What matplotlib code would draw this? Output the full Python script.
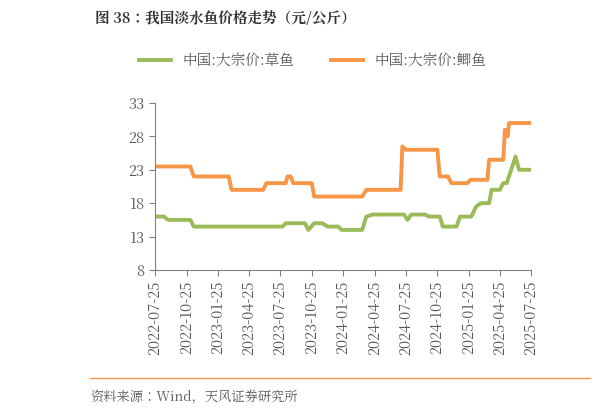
import pandas as pd
import matplotlib.pyplot as plt
import matplotlib.dates as mdates
from matplotlib import font_manager

cjk = [f.name for f in font_manager.fontManager.ttflist if "CJK" in f.name]
plt.rcParams["font.family"] = (["Noto Sans CJK SC"] if "Noto Sans CJK SC" in cjk else cjk[:1]) + ["DejaVu Sans"]

grass_dates = ["2022-07-25", "2022-08-20", "2022-09-01", "2022-11-05", "2022-11-15", "2023-08-01",
               "2023-08-10", "2023-10-05", "2023-10-15", "2023-11-01", "2023-11-25", "2023-12-10",
               "2024-01-10", "2024-01-20", "2024-03-20", "2024-04-01", "2024-04-20", "2024-07-20",
               "2024-07-30", "2024-08-10", "2024-09-20", "2024-09-30", "2024-11-01", "2024-11-10",
               "2024-12-20", "2024-12-30", "2025-02-01", "2025-02-15", "2025-03-01", "2025-03-25",
               "2025-04-01", "2025-04-25", "2025-05-05", "2025-05-15", "2025-05-25", "2025-06-10",
               "2025-06-20", "2025-07-25"]
grass_vals = [16, 16, 15.5, 15.5, 14.5, 14.5, 15, 15, 14, 15, 15, 14.5, 14.5, 14, 14, 16, 16.3, 16.3,
              15.5, 16.3, 16.3, 16, 16, 14.5, 14.5, 16, 16, 17.5, 18, 18, 20, 20, 21, 21, 22.5,
              25, 23, 23]

crucian_dates = ["2022-07-25", "2022-11-05", "2022-11-15", "2023-02-25", "2023-03-05", "2023-06-05",
                 "2023-06-15", "2023-08-10", "2023-08-15", "2023-08-25", "2023-09-01", "2023-10-25",
                 "2023-11-01", "2024-03-20", "2024-04-01", "2024-07-10", "2024-07-15", "2024-07-25",
                 "2024-10-25", "2024-11-01", "2024-11-25", "2024-12-05", "2025-01-20", "2025-01-30",
                 "2025-03-20", "2025-03-25", "2025-05-05", "2025-05-10", "2025-05-18", "2025-05-22",
                 "2025-05-30", "2025-07-25"]
crucian_vals = [23.5, 23.5, 22, 22, 20, 20, 21, 21, 22, 22, 21, 21, 19, 19, 20, 20, 26.5, 26, 26,
                22, 22, 21, 21, 21.5, 21.5, 24.5, 24.5, 29, 28, 30, 30, 30]

x_ticks = ["2022-07-25", "2022-10-25", "2023-01-25", "2023-04-25", "2023-07-25", "2023-10-25",
           "2024-01-25", "2024-04-25", "2024-07-25", "2024-10-25", "2025-01-25", "2025-04-25",
           "2025-07-25"]
y_ticks = [8, 13, 18, 23, 28, 33]

fig = plt.figure(figsize=(6.09, 4.15), dpi=100)
ax = fig.add_axes([155 / 609, 1 - 270 / 415, 376 / 609, 167 / 415])

ax.plot(pd.to_datetime(grass_dates), grass_vals, color="#9bbb59", lw=2.8, label="中国:大宗价:草鱼")
ax.plot(pd.to_datetime(crucian_dates), crucian_vals, color="#f79646", lw=2.8, label="中国:大宗价:鲫鱼")

ax.set_ylim(8, 33)
ax.set_yticks(y_ticks)
ax.set_xlim(pd.Timestamp("2022-07-25"), pd.Timestamp("2025-07-25"))
ax.set_xticks(pd.to_datetime(x_ticks))
ax.xaxis.set_major_formatter(mdates.DateFormatter("%Y-%m-%d"))
for lab in ax.get_xticklabels():
    lab.set_rotation(90)
ax.tick_params(labelsize=10.5, colors="#595959", length=4, color="#808080")
for s in ["top", "right"]:
    ax.spines[s].set_visible(False)
for s in ["left", "bottom"]:
    ax.spines[s].set_color("#808080")

ax.legend(loc="center", bbox_to_anchor=(0.42, 1.25), ncol=2, frameon=False,
          fontsize=10.5, handlelength=2.2, columnspacing=2.5, labelcolor="#595959")

fig.text(95 / 609, 1 - 20 / 415, "图 38：我国淡水鱼价格走势（元/公斤）", fontsize=10.5,
         weight="bold", color="#333333", va="center")
fig.add_artist(plt.Line2D([90 / 609, 590 / 609], [1 - 378 / 415] * 2, color="#f79646", lw=1))
fig.text(90 / 609, 1 - 397 / 415, "资料来源：Wind，天风证券研究所", fontsize=9.5,
         color="#595959", va="center")

fig.savefig("out.png", dpi=100)
